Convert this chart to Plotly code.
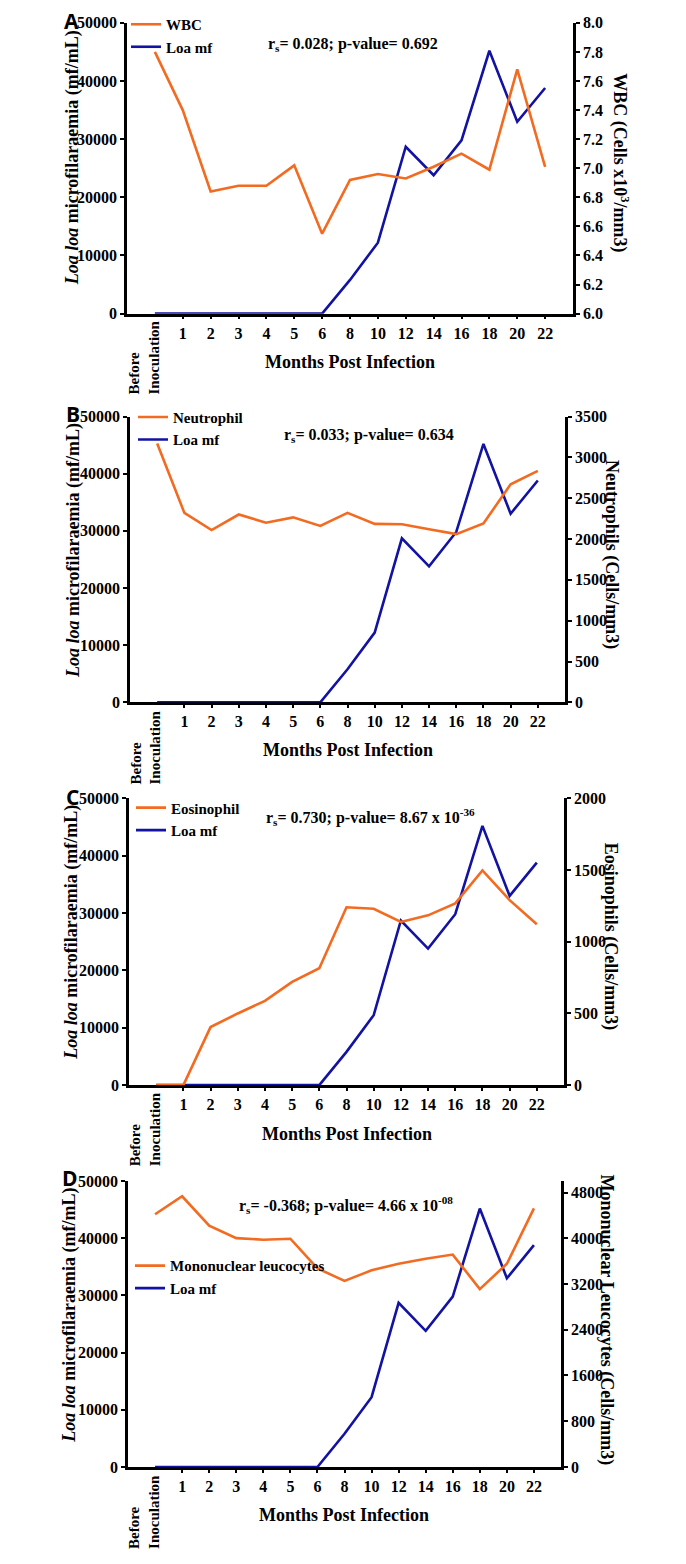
import plotly.graph_objects as go

# ---------------- data ----------------
categories = ["Before Inoculation", "1", "2", "3", "4", "5", "6", "8", "10", "12", "14", "16", "18", "20", "22"]
tick_labels = ["1", "2", "3", "4", "5", "6", "8", "10", "12", "14", "16", "18", "20", "22"]

loa_mf = [0, 0, 0, 0, 0, 0, 0, 5800, 12200, 28700, 23800, 29800, 45200, 33000, 38800]

wbc = [7.80, 7.40, 6.84, 6.88, 6.88, 7.02, 6.55, 6.92, 6.96, 6.93, 7.01, 7.10, 6.99, 7.68, 7.01]
neutrophil = [3170, 2320, 2110, 2300, 2200, 2265, 2160, 2320, 2185, 2180, 2120, 2060, 2190, 2670, 2835]
eosinophil = [0, 0, 405, 500, 588, 720, 815, 1240, 1230, 1138, 1184, 1267, 1497, 1290, 1122]
mononuclear = [4420, 4735, 4222, 4003, 3975, 3992, 3473, 3255, 3439, 3554, 3641, 3715, 3111, 3554, 4522]

series_names = ["WBC", "Neutrophil", "Eosinophil", "Mononuclear leucocytes"]
series_values = [wbc, neutrophil, eosinophil, mononuclear]
right_titles = ["WBC (Cells x10<sup>3</sup>/mm3)", "Neutrophils (Cells/mm3)",
                "Eosinophils (Cells/mm3)", "Mononuclear Leucocytes (Cells/mm3)"]
stats_text = ["r<sub>s</sub>= 0.028; p-value= 0.692",
              "r<sub>s</sub>= 0.033; p-value= 0.634",
              "r<sub>s</sub>= 0.730; p-value= 8.67 x 10<sup>-36</sup>",
              "r<sub>s</sub>= -0.368; p-value= 4.66 x 10<sup>-08</sup>"]
panel_letters = ["A", "B", "C", "D"]
left_ticks = [0, 10000, 20000, 30000, 40000, 50000]
right_ranges = [[6.0, 8.0], [0, 3500], [0, 2000], [0, 5000]]
right_ticks = [[6.0, 6.2, 6.4, 6.6, 6.8, 7.0, 7.2, 7.4, 7.6, 7.8, 8.0],
               [0, 500, 1000, 1500, 2000, 2500, 3000, 3500],
               [0, 500, 1000, 1500, 2000],
               [0, 800, 1600, 2400, 3200, 4000, 4800]]
right_fmt = [".1f", "d", "d", "d"]

# ---------------- layout geometry (pixels) ----------------
W, H = 686, 1564
panels = [  # x0, x1, ytop, ybottom
    (127, 573, 15, 309),
    (130, 565, 413, 702),
    (129, 564, 799, 1089),
    (128, 561, 1186, 1475),
]
legend_pos = [(126, 0), (133, 397), (131, 792), (130, 1255)]
stats_pos = [(353, 37), (369, 432), (370, 818), (346, 1210)]
right_title_pos = [(620, 156), (612, 552), (610, 939), (606, 1326)]
left_title_pos = [(72, 152), (73, 549), (72, 935), (70, 1322)]
xtitle_pos = [(350, 358), (348, 750), (347, 1138), (344, 1524)]
before_top = [314, 708, 1094, 1481]
letter_pos = [(71, 13), (73, 410), (72, 798), (70, 1183)]

ORANGE = "#F26B21"
BLUE = "#1212A3"
SERIF = "Liberation Serif"


def px(x):
    return x / W


def py(y):
    return 1 - y / H


def bold(size, family=SERIF):
    return dict(family=family, size=size, color="black", weight="bold")


fig = go.Figure()
layout = dict(
    width=W, height=H,
    margin=dict(l=0, r=0, t=0, b=0),
    paper_bgcolor="white", plot_bgcolor="white",
    font=bold(16),
    showlegend=True,
)
annotations = []

xnum = list(range(len(categories)))

for i in range(4):
    n = i + 1
    xa = "x" if n == 1 else f"x{n}"
    ya = "y" if n == 1 else f"y{n}"
    yr = f"y{n + 4}"
    leg = "legend" if n == 1 else f"legend{n}"
    x0, x1, yt, yb = panels[i]

    fig.add_trace(go.Scatter(
        x=xnum, y=series_values[i], mode="lines", name=series_names[i],
        line=dict(color=ORANGE, width=2.6), xaxis=xa, yaxis=yr, legend=leg,
        cliponaxis=False))
    fig.add_trace(go.Scatter(
        x=xnum, y=loa_mf, mode="lines", name="Loa mf",
        line=dict(color=BLUE, width=2.6), xaxis=xa, yaxis=ya, legend=leg,
        cliponaxis=False))

    axis_common = dict(showgrid=False, zeroline=False, showline=True,
                       linecolor="black", linewidth=2.6, ticks="outside",
                       tickcolor="black", tickwidth=2, ticklen=4,
                       tickfont=bold(16), layer="below traces")

    layout["xaxis" if n == 1 else f"xaxis{n}"] = dict(
        axis_common, domain=[px(x0), px(x1)], anchor=ya, range=[-1, 15],
        tickmode="array", tickvals=xnum[1:], ticktext=tick_labels,
        ticklen=3, fixedrange=True)
    layout["yaxis" if n == 1 else f"yaxis{n}"] = dict(
        axis_common, domain=[py(yb), py(yt)], anchor=xa, range=[0, 50000],
        tickmode="array", tickvals=left_ticks, tickformat="d")
    layout[f"yaxis{n + 4}"] = dict(
        axis_common, domain=[py(yb), py(yt)], anchor=xa, overlaying=ya,
        side="right", range=right_ranges[i], tickmode="array",
        tickvals=right_ticks[i], tickformat=right_fmt[i])

    lx, ly = legend_pos[i]
    layout[leg] = dict(x=px(lx), y=py(ly), xanchor="left", yanchor="top",
                       bgcolor="rgba(0,0,0,0)", borderwidth=0,
                       font=bold(15), tracegroupgap=0, itemwidth=30)

    sx, sy = stats_pos[i]
    annotations.append(dict(text=stats_text[i], x=px(sx), y=py(sy),
                            xref="paper", yref="paper", showarrow=False,
                            xanchor="center", yanchor="middle", font=bold(16)))
    rx, ry = right_title_pos[i]
    annotations.append(dict(text=right_titles[i], x=px(rx), y=py(ry),
                            xref="paper", yref="paper", showarrow=False,
                            textangle=90, xanchor="center", yanchor="middle",
                            font=bold(18)))
    tx, ty = left_title_pos[i]
    annotations.append(dict(text="<i>Loa loa</i> microfilaraemia (mf/mL)",
                            x=px(tx), y=py(ty), xref="paper", yref="paper",
                            showarrow=False, textangle=-90,
                            xanchor="center", yanchor="middle", font=bold(18)))
    mx, my = xtitle_pos[i]
    annotations.append(dict(text="Months Post Infection", x=px(mx), y=py(my),
                            xref="paper", yref="paper", showarrow=False,
                            xanchor="center", yanchor="middle", font=bold(18)))
    annotations.append(dict(text="Before<br>Inoculation", x=0, xref=xa,
                            y=py(before_top[i]), yref="paper", showarrow=False,
                            textangle=-90, align="left", xanchor="center",
                            yanchor="top", xshift=-11, font=bold(15)))
    ltx, lty = letter_pos[i]
    annotations.append(dict(text=panel_letters[i], x=px(ltx), y=py(lty),
                            xref="paper", yref="paper", showarrow=False,
                            xanchor="center", yanchor="middle",
                            font=bold(21, "Open Sans")))

layout["annotations"] = annotations
fig.update_layout(**layout)
fig.write_html("out.html", config={"displayModeBar": False},
               post_script="document.body.style.margin='0';document.body.style.overflow='hidden';")
